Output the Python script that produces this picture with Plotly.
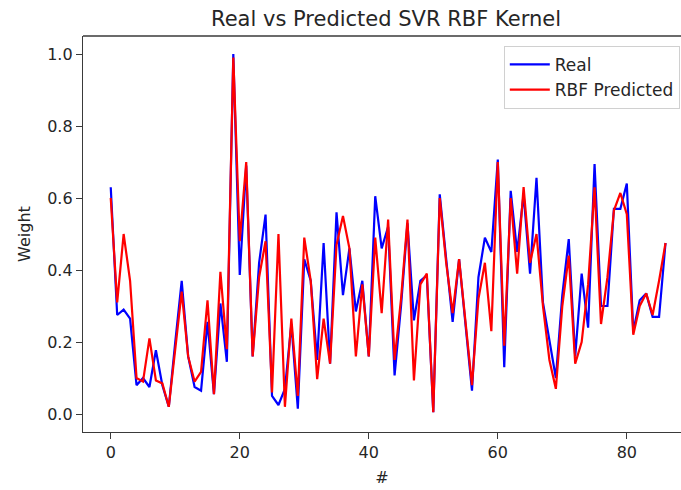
import plotly.graph_objects as go

idx = list(range(87))
real = [0.63, 0.275, 0.29, 0.265, 0.08, 0.10, 0.075, 0.177, 0.08, 0.02,
        0.20, 0.37, 0.16, 0.075, 0.065, 0.256, 0.055, 0.307, 0.145, 1.0,
        0.386, 0.69, 0.16, 0.42, 0.554, 0.05, 0.025, 0.07, 0.25, 0.015,
        0.43, 0.37, 0.15, 0.475, 0.14, 0.56, 0.33, 0.46, 0.285, 0.37,
        0.16, 0.605, 0.46, 0.52, 0.107, 0.30, 0.53, 0.26, 0.37, 0.385,
        0.005, 0.61, 0.43, 0.256, 0.43, 0.25, 0.065, 0.38, 0.49, 0.45,
        0.707, 0.13, 0.62, 0.45, 0.61, 0.39, 0.656, 0.31, 0.20, 0.10,
        0.33, 0.486, 0.16, 0.39, 0.24, 0.694, 0.30, 0.30, 0.57, 0.57,
        0.64, 0.23, 0.316, 0.335, 0.27, 0.27, 0.475]
pred = [0.60, 0.31, 0.50, 0.37, 0.10, 0.09, 0.21, 0.093, 0.085, 0.02,
        0.18, 0.34, 0.16, 0.09, 0.117, 0.316, 0.055, 0.395, 0.18, 0.99,
        0.48, 0.70, 0.16, 0.38, 0.48, 0.06, 0.50, 0.02, 0.265, 0.05,
        0.49, 0.37, 0.097, 0.265, 0.14, 0.47, 0.55, 0.46, 0.16, 0.36,
        0.16, 0.49, 0.28, 0.54, 0.15, 0.32, 0.54, 0.093, 0.36, 0.39,
        0.005, 0.60, 0.42, 0.28, 0.43, 0.25, 0.08, 0.32, 0.42, 0.23,
        0.70, 0.19, 0.60, 0.39, 0.63, 0.42, 0.50, 0.30, 0.15, 0.07,
        0.30, 0.44, 0.14, 0.20, 0.36, 0.63, 0.25, 0.38, 0.565, 0.614,
        0.555, 0.22, 0.30, 0.335, 0.275, 0.37, 0.475]
x_ticks = [0, 20, 40, 60, 80]
y_ticks = [0.0, 0.2, 0.4, 0.6, 0.8, 1.0]

font = "DejaVu Sans"
txt = "#262626"
spine = "#3a3a3a"
fig = go.Figure()
fig.add_trace(go.Scatter(x=idx, y=real, mode="lines", name="Real",
                         line=dict(color="#0000ff", width=2.2)))
fig.add_trace(go.Scatter(x=idx, y=pred, mode="lines", name="RBF Predicted",
                         line=dict(color="#ff0000", width=2.2)))

axis_common = dict(showgrid=False, zeroline=False, showline=True,
                   linecolor=spine, linewidth=1.4, ticks="outside",
                   ticklen=6, tickwidth=1.4, tickcolor=spine,
                   tickfont=dict(family=font, size=16, color=txt))

fig.update_layout(
    width=681, height=490,
    margin=dict(l=83, r=0, t=36, b=58),
    paper_bgcolor="white", plot_bgcolor="white",
    font=dict(family=font, size=16, color=txt),
    title=dict(text="Real vs Predicted SVR RBF Kernel", x=386/681, xref="container",
               xanchor="center", y=1 - 19/490, yanchor="middle",
               font=dict(family=font, size=21, color=txt)),
    xaxis=dict(range=[-4.3, 88.4], tickvals=x_ticks, mirror=False,
               title=dict(text="#", font=dict(family=font, size=16, color=txt), standoff=10),
               **axis_common),
    yaxis=dict(range=[-0.05, 1.05], tickvals=y_ticks, tickformat=".1f",
               title=dict(text="Weight", font=dict(family=font, size=16, color=txt), standoff=12),
               **axis_common),
    legend=dict(x=0.998, y=0.975, xanchor="right", yanchor="top",
                bgcolor="rgba(255,255,255,0.9)", bordercolor="#d0d0d0",
                borderwidth=1, itemwidth=40, tracegroupgap=0,
                font=dict(family=font, size=17, color=txt)),
    showlegend=True,
)
# top spine
fig.add_shape(type="line", xref="paper", yref="paper", x0=0, x1=1, y0=1, y1=1,
              line=dict(color=spine, width=1.4))

fig.write_html("out.html")
